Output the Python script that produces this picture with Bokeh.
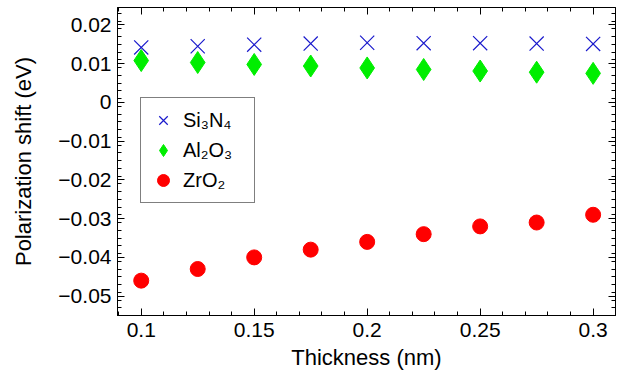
from bokeh.plotting import figure
from bokeh.models import (Range1d, LinearAxis, FixedTicker, Legend, LegendItem,
                          CustomJSTickFormatter)
from bokeh.embed import file_html
from bokeh.resources import INLINE

# ---- data ----
thickness = [0.1, 0.125, 0.15, 0.175, 0.2, 0.225, 0.25, 0.275, 0.3]
si3n4 = [0.0142, 0.0145, 0.0149, 0.0152, 0.0154, 0.0153, 0.0153, 0.0152, 0.0151]
al2o3 = [0.0108, 0.0103, 0.0098, 0.0094, 0.0089, 0.0085, 0.0081, 0.0078, 0.0075]
zro2 = [-0.046, -0.043, -0.040, -0.038, -0.036, -0.034, -0.032, -0.031, -0.029]

x_ticks = [0.1, 0.15, 0.2, 0.25, 0.3]
x_tick_labels = ["0.1", "0.15", "0.2", "0.25", "0.3"]
y_ticks = [-0.05, -0.04, -0.03, -0.02, -0.01, 0.0, 0.01, 0.02]
y_tick_labels = ["\u22120.05", "\u22120.04", "\u22120.03", "\u22120.02", "\u22120.01", "0", "0.01", "0.02"]
series_names = ["Si\u2083N\u2084", "Al\u2082O\u2083", "ZrO\u2082"]

FONT = "Liberation Sans"

p = figure(width=623, height=381, output_backend="svg", toolbar_location=None,
           x_range=Range1d(0.0895, 0.3099), y_range=Range1d(-0.0550, 0.0245),
           x_axis_location=None, y_axis_location=None,
           min_border_left=117, min_border_right=8, min_border_top=7, min_border_bottom=66)
p.grid.visible = False
p.outline_line_color = "black"
p.outline_line_width = 1
p.background_fill_color = "white"
p.border_fill_color = "white"

xt = FixedTicker(ticks=x_ticks, minor_ticks=[round(0.09 + 0.01 * i, 3) for i in range(23)])
yt = FixedTicker(ticks=y_ticks, minor_ticks=[round(-0.055 + 0.002 * i, 4) for i in range(41)])


def style_axis(ax, labels=True):
    ax.axis_line_color = "black"
    ax.major_tick_line_color = "black"
    ax.minor_tick_line_color = "black"
    ax.major_tick_in = 7
    ax.major_tick_out = 0
    ax.minor_tick_in = 4
    ax.minor_tick_out = 0
    ax.major_label_text_font = FONT
    ax.major_label_text_font_size = "21px"
    ax.major_label_text_color = "black"
    ax.axis_label_text_font = FONT
    ax.axis_label_text_font_style = "normal"
    ax.axis_label_text_color = "black"
    if not labels:
        ax.major_label_text_font_size = "0px"
        ax.major_label_standoff = 0


bottom = LinearAxis(ticker=xt, axis_label="Thickness (nm)",
                    major_label_overrides={t: l for t, l in zip(x_ticks, x_tick_labels)})
style_axis(bottom)
bottom.axis_label_text_font_size = "22px"
bottom.major_label_standoff = 7
bottom.axis_label_standoff = 5
p.add_layout(bottom, "below")

left = LinearAxis(ticker=yt, axis_label="Polarization shift (eV)",
                  major_label_overrides={t: l for t, l in zip(y_ticks, y_tick_labels)})
style_axis(left)
left.axis_label_text_font_size = "22px"
left.major_label_standoff = 6
left.axis_label_standoff = 19
p.add_layout(left, "left")

top = LinearAxis(ticker=xt, formatter=CustomJSTickFormatter(code="return ''"))
style_axis(top, labels=False)
p.add_layout(top, "above")

right = LinearAxis(ticker=yt, formatter=CustomJSTickFormatter(code="return ''"))
style_axis(right, labels=False)
p.add_layout(right, "right")

r1 = p.scatter(thickness, si3n4, marker="x", size=20, line_color="#1a1acc", line_width=1.2)
r2 = p.scatter(thickness, al2o3, marker="diamond", size=22, fill_color="#00ee00", line_color="#00ee00")
r3 = p.scatter(thickness, zro2, marker="circle", size=15, fill_color="#ff0000", line_color="#ff0000")

legend = Legend(items=[LegendItem(label=n, renderers=[r]) for n, r in zip(series_names, [r1, r2, r3])],
                location=(23, 112), orientation="vertical",
                glyph_width=30, glyph_height=30, label_height=20, spacing=0,
                padding=7, margin=0, label_standoff=5, label_width=64,
                label_text_font=FONT, label_text_font_size="20px", label_text_color="black",
                border_line_color="black", border_line_width=1,
                background_fill_color="white", background_fill_alpha=1.0)
p.add_layout(legend, "center")

open("out.html", "w").write(file_html(p, INLINE))
